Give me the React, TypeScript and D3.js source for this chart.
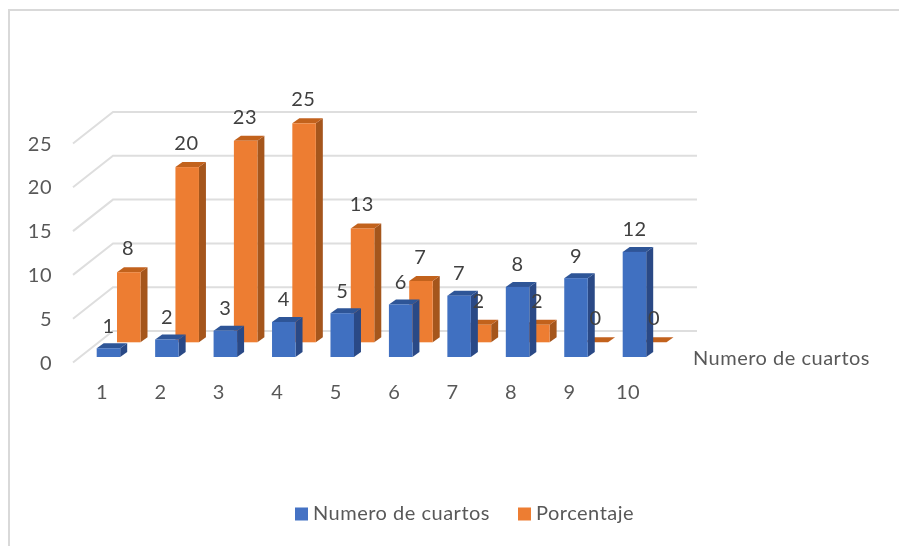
import React from "react";
import * as d3 from "d3";

const categories = ["1", "2", "3", "4", "5", "6", "7", "8", "9", "10"];
const numeroDeCuartos = [1, 2, 3, 4, 5, 6, 7, 8, 9, 12];
const porcentaje = [8, 20, 23, 25, 13, 7, 2, 2, 0, 0];
const yTicks = [0, 5, 10, 15, 20, 25];

const FONT = "Lato, Carlito, sans-serif";
const height = d3.scaleLinear().domain([0, 25]).range([0, 219]);
const xCat = d3.scalePoint<string>().domain(categories).range([102, 628]);
const barW = 23.5;
const depthX = 7;
const depthY = 5;

function Bar3D({ x, base, h, front, side, top }: { x: number; base: number; h: number; front: string; side: string; top: string }) {
  const t = base - h;
  const r = x + barW;
  return (
    <g>
      <polygon points={`${r},${base} ${r + depthX},${base - depthY} ${r + depthX},${t - depthY} ${r},${t}`} fill={side} />
      <polygon points={`${x},${t} ${x + depthX},${t - depthY} ${r + depthX},${t - depthY} ${r},${t}`} fill={top} />
      <rect x={x} y={t} width={barW} height={h} fill={front} />
    </g>
  );
}

export default function App() {
  const blueBase = 357;
  const orangeBase = 342.3;
  const gridBack0 = 331;
  const gridFront0 = 362.5;
  return (
    <svg width={899} height={546} style={{ position: "absolute", left: 0, top: 0, background: "#fff" }}>
      <defs>
        <filter id="soft" x="-2%" y="-2%" width="104%" height="104%">
          <feGaussianBlur stdDeviation="0.4" />
        </filter>
      </defs>
      <g filter="url(#soft)">
        <path d="M9,546V10H899" fill="none" stroke="#d9d9d9" strokeWidth={2} />
        {yTicks.map((v) => {
          const h = height(v);
          return (
            <polyline
              key={v}
              points={`73,${gridFront0 - h} 113,${gridBack0 - h} 697,${gridBack0 - h}`}
              fill="none"
              stroke="#dedede"
              strokeWidth={2}
            />
          );
        })}
        {categories.map((c, i) => (
          <Bar3D key={c} x={xCat(c)! + 15} base={orangeBase} h={height(porcentaje[i])} front="#ed7d31" side="#a5561f" top="#c2621f" />
        ))}
        {categories.map((c, i) => (
          <Bar3D key={c} x={xCat(c)! - 5.3} base={blueBase} h={height(numeroDeCuartos[i])} front="#3f6fc1" side="#2a4a86" top="#2f5597" />
        ))}
        <g fontFamily={FONT} fontSize={20} letterSpacing={0.5}>
          {yTicks.map((v) => (
            <text key={v} x={52} y={gridFront0 - height(v) + 7} textAnchor="end" fill="#595959">{v}</text>
          ))}
          {categories.map((c) => (
            <text key={c} x={xCat(c)!} y={399} textAnchor="middle" fill="#595959">{c}</text>
          ))}
          {categories.map((c, i) => (
            <text key={c} x={xCat(c)! + 6.5} y={blueBase - height(numeroDeCuartos[i]) - 15.5} textAnchor="middle" fill="#404040">{numeroDeCuartos[i]}</text>
          ))}
          {categories.map((c, i) => (
            <text key={c} x={xCat(c)! + 26} y={orangeBase - height(porcentaje[i]) - 17} textAnchor="middle" fill="#404040">{porcentaje[i]}</text>
          ))}
          <text x={693} y={364.5} fill="#595959">Numero de cuartos</text>
          <rect x={295} y={507.5} width={13} height={13} fill="#4472c4" />
          <text x={313} y={520} fill="#595959">Numero de cuartos</text>
          <rect x={518} y={507.5} width={13} height={13} fill="#ed7d31" />
          <text x={536} y={520} fill="#595959">Porcentaje</text>
        </g>
      </g>
    </svg>
  );
}
